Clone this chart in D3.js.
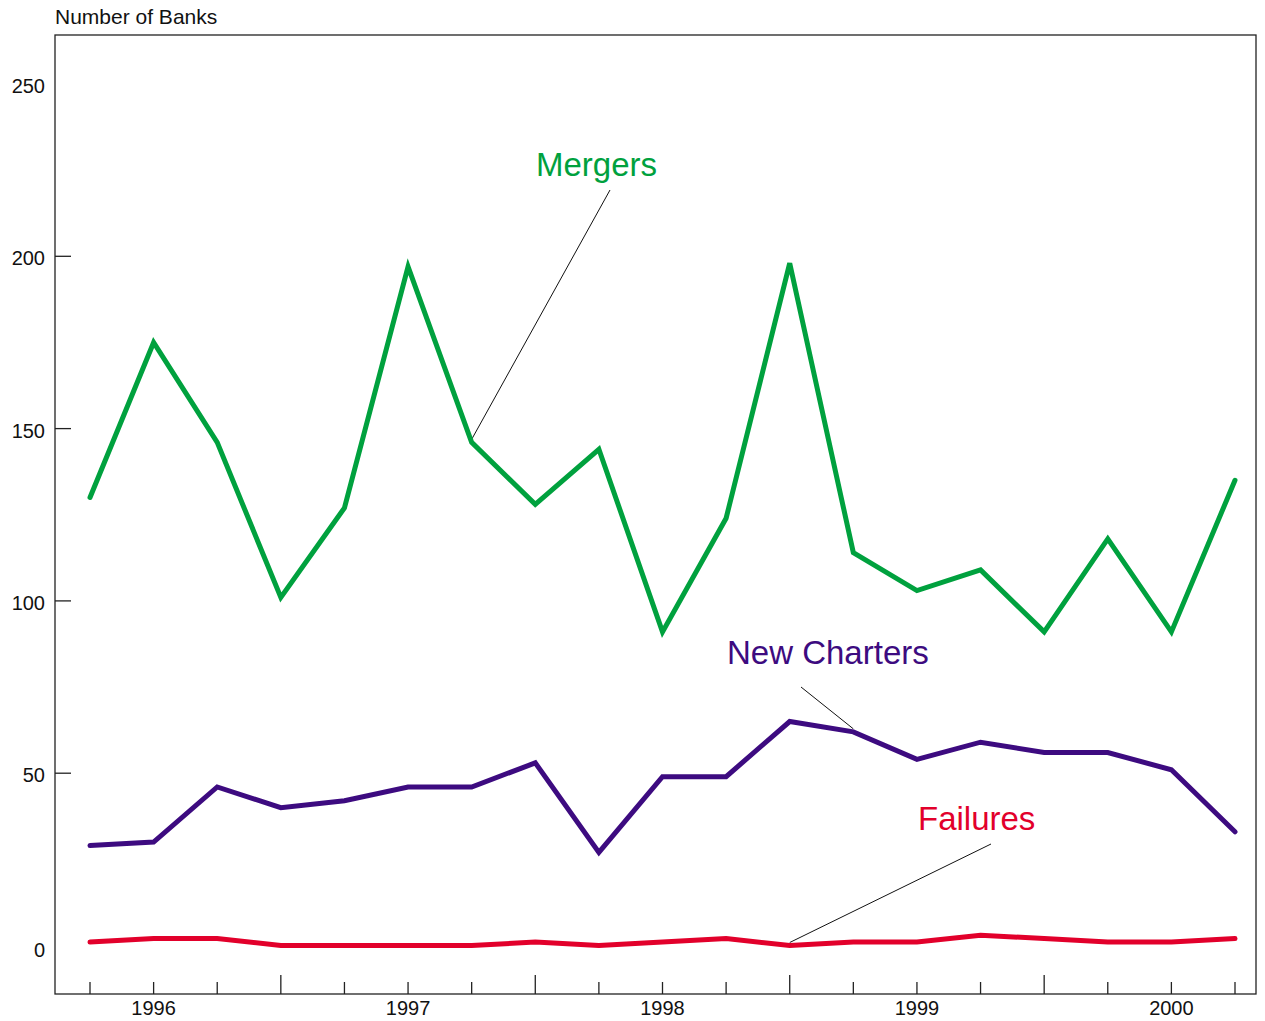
<!DOCTYPE html>
<html>
<head>
<meta charset="utf-8">
<script src="https://cdn.jsdelivr.net/npm/d3@7"></script>
<style>
  body { margin: 0; background: #fff; }
  svg { display: block; font-family: "Liberation Sans", Arial, sans-serif; }
</style>
</head>
<body>
<svg width="1265" height="1021"></svg>
<script>
// quarterly data, 1995:Q4 - 2000:Q2
const quarters = d3.range(19);
const yearLabels = ['1996', '1997', '1998', '1999', '2000'];
const yearLabelIdx = [1, 5, 9, 13, 17];
const yearBreakIdx = [3, 7, 11, 15];

const mergers = [130, 175, 146, 101, 127, 197, 146, 128, 144, 91, 124, 198, 114, 103, 109, 91, 118, 91, 135];
const newCharters = [29, 30, 46, 40, 42, 46, 46, 53, 27, 49, 49, 65, 62, 54, 59, 56, 56, 51, 33];
const failures = [1, 2, 2, 0, 0, 0, 0, 1, 0, 1, 2, 0, 1, 1, 3, 2, 1, 1, 2];

const yTicks = [0, 50, 100, 150, 200, 250];
const yTickMarks = [50, 100, 150, 200];

const series = [
  {name: 'Mergers', values: mergers, color: '#00a13e', label: [536, 176], lead: [[610, 190], 6]},
  {name: 'New Charters', values: newCharters, color: '#3d0b80', label: [727, 664], lead: [[801, 687], 12]},
  {name: 'Failures', values: failures, color: '#e2002b', label: [918, 830], lead: [[991, 844], 11]}
];

const svg = d3.select('svg');
const frame = {left: 55, right: 1256, top: 35, bottom: 994};

const x = d3.scaleLinear().domain([0, 18]).range([90, 1235]);
const y = d3.scaleLinear().domain([0, 250]).range([945.5, 84]);

// frame
svg.append('rect')
  .attr('x', frame.left)
  .attr('y', frame.top)
  .attr('width', frame.right - frame.left)
  .attr('height', frame.bottom - frame.top)
  .attr('fill', 'none')
  .attr('stroke', '#222')
  .attr('stroke-width', 1.3);

svg.append('text')
  .attr('x', frame.left)
  .attr('y', 24)
  .attr('font-size', 21)
  .attr('fill', '#111')
  .text('Number of Banks');

// y axis labels + inward ticks
svg.append('g').selectAll('text')
  .data(yTicks)
  .enter()
  .append('text')
  .attr('x', 45)
  .attr('y', d => y(d) + 7 + (d === 0 ? 4 : 2))
  .attr('text-anchor', 'end')
  .attr('font-size', 20)
  .attr('fill', '#111')
  .text(d => d);

svg.append('g').selectAll('line')
  .data(yTickMarks)
  .enter()
  .append('line')
  .attr('x1', frame.left)
  .attr('x2', frame.left + 16)
  .attr('y1', d => y(d))
  .attr('y2', d => y(d))
  .attr('stroke', '#222')
  .attr('stroke-width', 1.3);

// x ticks
svg.append('g').selectAll('line')
  .data(quarters)
  .enter()
  .append('line')
  .attr('x1', d => x(d))
  .attr('x2', d => x(d))
  .attr('y1', frame.bottom)
  .attr('y2', d => yearBreakIdx.includes(d) ? frame.bottom - 19 : frame.bottom - 12)
  .attr('stroke', '#222')
  .attr('stroke-width', 1.3);

svg.append('g').selectAll('text')
  .data(yearLabels)
  .enter()
  .append('text')
  .attr('x', (d, i) => x(yearLabelIdx[i]))
  .attr('y', 1015)
  .attr('text-anchor', 'middle')
  .attr('font-size', 20)
  .attr('fill', '#111')
  .text(d => d);

const line = d3.line()
  .x((d, i) => x(i))
  .y(d => y(d))
  .curve(d3.curveLinear);

// leader lines
svg.append('g').selectAll('line')
  .data(series)
  .enter()
  .append('line')
  .attr('x1', d => d.lead[0][0])
  .attr('y1', d => d.lead[0][1])
  .attr('x2', d => x(d.lead[1]))
  .attr('y2', d => y(d.values[d.lead[1]]) - 3)
  .attr('stroke', '#111')
  .attr('stroke-width', 1);

svg.append('g').selectAll('path')
  .data(series)
  .enter()
  .append('path')
  .attr('d', d => line(d.values))
  .attr('fill', 'none')
  .attr('stroke', d => d.color)
  .attr('stroke-width', 5)
  .attr('stroke-linejoin', 'miter')
  .attr('stroke-linecap', 'round');

svg.append('g').selectAll('text')
  .data(series)
  .enter()
  .append('text')
  .attr('x', d => d.label[0])
  .attr('y', d => d.label[1])
  .attr('font-size', 33)
  .attr('fill', d => d.color)
  .text(d => d.name);
</script>
</body>
</html>
